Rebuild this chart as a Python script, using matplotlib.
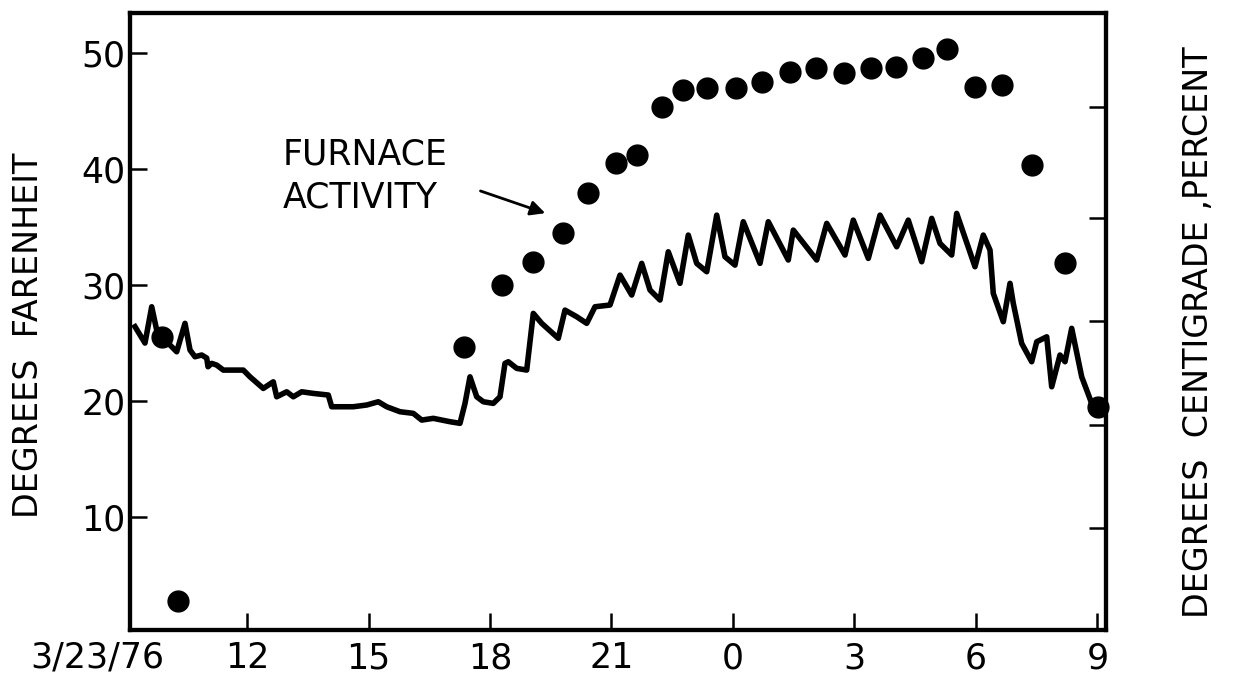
import matplotlib.pyplot as plt

# hours since midnight 3/23/76 (24+ = next day)
temp_hours = [9.235, 9.481, 9.647, 9.770, 9.894, 10.099, 10.264, 10.469, 10.593, 10.716,
              10.881, 11.005, 11.037, 11.128, 11.252, 11.415, 11.909, 12.074, 12.402, 12.649,
              12.733, 12.980, 13.143, 13.351, 13.637, 14.007, 14.091, 14.625, 14.956, 15.242,
              15.449, 15.778, 16.106, 16.314, 16.600, 17.012, 17.259, 17.383, 17.506, 17.672,
              17.835, 18.081, 18.247, 18.370, 18.452, 18.659, 18.906, 19.069, 19.277, 19.686,
              19.852, 20.141, 20.388, 20.593, 20.963, 21.210, 21.499, 21.746, 21.951, 22.198,
              22.402, 22.691, 22.896, 23.104, 23.351, 23.598, 23.802, 24.049, 24.254, 24.667,
              24.872, 25.365, 25.489, 26.067, 26.314, 26.765, 26.970, 27.341, 27.630, 28.042,
              28.328, 28.659, 28.906, 29.111, 29.400, 29.523, 29.975, 30.180, 30.346, 30.427,
              30.674, 30.840, 30.921, 31.128, 31.375, 31.499, 31.746, 31.869, 32.074, 32.198,
              32.363, 32.610, 32.857, 32.980, 33.185]
temp_f = [26.41, 25.00, 28.13, 26.12, 25.54, 24.83, 24.25, 26.70, 24.40, 23.82,
          23.97, 23.71, 22.96, 23.25, 23.10, 22.67, 22.67, 22.09, 21.09, 21.66,
          20.37, 20.80, 20.37, 20.80, 20.66, 20.52, 19.51, 19.51, 19.66, 19.94,
          19.51, 19.08, 18.94, 18.36, 18.51, 18.22, 18.08, 19.80, 22.09, 20.37,
          19.94, 19.80, 20.37, 23.25, 23.39, 22.82, 22.67, 27.56, 26.70, 25.41,
          27.84, 27.27, 26.70, 28.13, 28.28, 30.86, 29.14, 31.87, 29.57, 28.71,
          32.87, 30.15, 34.31, 31.87, 31.15, 36.03, 32.44, 31.72, 35.46, 31.87,
          35.46, 32.16, 34.74, 32.16, 35.32, 32.59, 35.60, 32.30, 36.03, 33.30,
          35.60, 32.01, 35.75, 33.59, 32.59, 36.18, 31.58, 34.31, 33.02, 29.28,
          26.84, 30.15, 28.42, 24.97, 23.39, 25.11, 25.54, 21.23, 23.97, 23.39,
          26.27, 22.09, 19.80, 18.94, 19.51]

furnace_hours = [9.894, 10.296, 17.358, 18.289, 19.054, 19.810, 20.427, 21.104, 21.622,
                 22.239, 22.773, 23.351, 24.067, 24.709, 25.407, 26.049, 26.741, 27.400,
                 28.017, 28.684, 29.291, 29.975, 30.635, 31.375, 32.198, 33.012]
furnace_pct = [25.54, 2.76, 24.63, 30.00, 32.01, 34.51, 37.96, 40.49, 41.21,
               45.37, 46.81, 47.01, 47.01, 47.53, 48.34, 48.68, 48.25, 48.73,
               48.77, 49.54, 50.32, 47.09, 47.24, 40.34, 31.87, 19.48]

x_ticks = [12, 15, 18, 21, 24, 27, 30, 33]
x_labels = ["12", "15", "18", "21", "0", "3", "6", "9"]
y_ticks = [10, 20, 30, 40, 50]
right_ticks = [9.05, 17.93, 26.90, 35.78, 45.34]

plt.rcParams["font.family"] = "DejaVu Sans"

fig = plt.figure(figsize=(12.33, 6.84), dpi=100)
ax = fig.add_axes([0.1054, 0.0789, 0.7916, 0.902])

ax.plot(temp_hours, temp_f, color="black", lw=4, solid_joinstyle="round")
ax.plot(furnace_hours, furnace_pct, "o", color="black", ms=15, clip_on=False)

ax.set_xlim(9.11, 33.21)
ax.set_ylim(0.26, 53.45)

ax.set_xticks(x_ticks)
ax.set_xticklabels(x_labels)
ax.set_yticks(y_ticks)
ax.tick_params(direction="in", length=12, width=1.8, labelsize=25, color="black")
ax.tick_params(axis="x", pad=8)
ax.tick_params(axis="y", pad=3)
for s in ax.spines.values():
    s.set_linewidth(3)

# date label left of the first tick
ax.text(8.3, -0.045, "3/23/76", transform=ax.get_xaxis_transform(), ha="center", va="center",
        fontsize=25)

ax2 = ax.twinx()
ax2.set_ylim(ax.get_ylim())
ax2.set_yticks(right_ticks)
ax2.set_yticklabels([])
ax2.tick_params(direction="in", length=12, width=1.8)
for s in ax2.spines.values():
    s.set_linewidth(3)

ax.text(12.89, 39.4, "FURNACE\nACTIVITY", ha="left", va="center", fontsize=25,
        linespacing=1.3)
ax.annotate("", xy=(19.43, 36.12), xytext=(17.70, 38.19),
            arrowprops=dict(arrowstyle="-|>", lw=2, color="black", mutation_scale=22))

fig.text(0.023, 0.51, "DEGREES  FARENHEIT", rotation=90, ha="center", va="center", fontsize=24)
fig.text(0.972, 0.515, "DEGREES  CENTIGRADE ,PERCENT", rotation=90, ha="center", va="center",
         fontsize=24)

fig.savefig("out.png", dpi=100)
